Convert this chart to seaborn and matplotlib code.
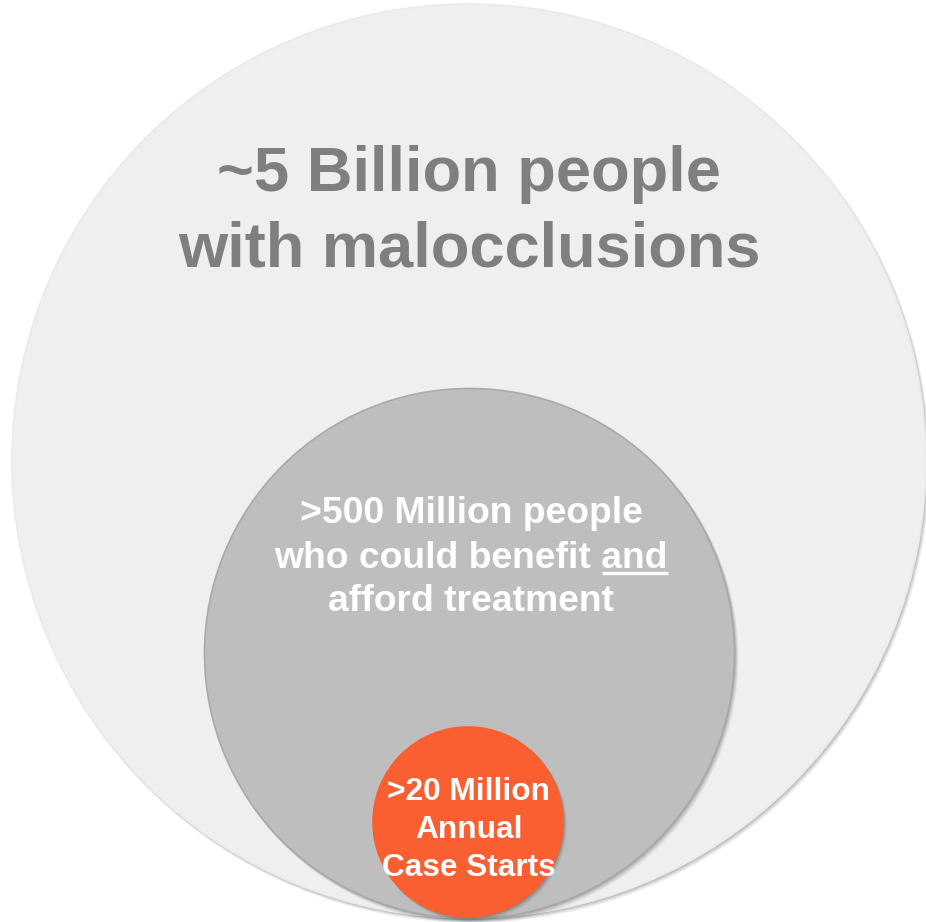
import matplotlib
matplotlib.use("Agg")
import matplotlib.pyplot as plt
from matplotlib.patches import Circle
import seaborn as sns

# ---- data ----
segments = ["Malocclusions", "Benefit and afford", "Annual case starts"]
populations = [5_000_000_000, 500_000_000, 20_000_000]
outer_lines = ["~5 Billion people", "with malocclusions"]
middle_lines = [">500 Million people", "who could benefit and", "afford treatment"]
underlined_word = "and"
inner_lines = [">20 Million", "Annual", "Case Starts"]

# ---- layout / style ----
sns.set_theme(style="white")
plt.rcParams['font.family'] = ['Liberation Sans', 'DejaVu Sans']

W, H = 926, 922
fig = plt.figure(figsize=(W / 100, H / 100), dpi=100)
ax = fig.add_axes([0, 0, 1, 1])
ax.set_xlim(0, W)
ax.set_ylim(H, 0)
ax.set_aspect("equal")
ax.axis("off")

geom = [  # (cx, cy, r)
    (469, 461, 457),
    (469.5, 653.5, 265),
    (468, 822, 95),
]
fills = ["#EFEFEF", "#BEBEBE", "#FA5F31"]
edges = ["#EAEAEA", "#A9A9A9", "#FA5F31"]

for (cx, cy, r), fc, ec, z in zip(geom, fills, edges, [1, 3, 5]):
    # soft drop shadow toward the lower right
    for k, a in enumerate([0.05, 0.07, 0.09, 0.11]):
        off = 4 - k
        ax.add_patch(Circle((cx + off * 0.7, cy + off * 0.9), r + 1.2 - k * 0.3,
                            facecolor="black", edgecolor="none", alpha=a, zorder=z))
    ax.add_patch(Circle((cx, cy), r, facecolor=fc, edgecolor=ec,
                        linewidth=1.2, zorder=z + 0.5))

# outer text
for txt, y in zip(outer_lines, [190.5, 266.5]):
    ax.text(469, y, txt, ha="center", va="baseline", fontsize=45.5,
            fontweight="bold", color="#7F7F7F", zorder=10)

# middle text
mid_y = [523, 568, 611]
for txt, y in zip(middle_lines, mid_y):
    ax.text(471, y, txt, ha="center", va="baseline", fontsize=26.8,
            fontweight="bold", color="white", zorder=10)

# underline the word
fig.canvas.draw()
renderer = fig.canvas.get_renderer()
def width_px(s, fs):
    t = ax.text(0, 0, s, fontsize=fs, fontweight="bold")
    w = t.get_window_extent(renderer).width
    t.remove()
    return w
full_w = width_px(middle_lines[1], 26.8)
word_w = width_px(underlined_word, 26.8)
x_right = 471 + full_w / 2
ax.plot([x_right - word_w, x_right], [mid_y[1] + 5, mid_y[1] + 5],
        color="white", linewidth=2.4, solid_capstyle="butt", zorder=10)

# inner text
for txt, y in zip(inner_lines, [800, 838, 876]):
    ax.text(468.5, y, txt, ha="center", va="baseline", fontsize=22.8,
            fontweight="bold", color="white", zorder=10)

fig.savefig("out.png", dpi=100, facecolor="white")
